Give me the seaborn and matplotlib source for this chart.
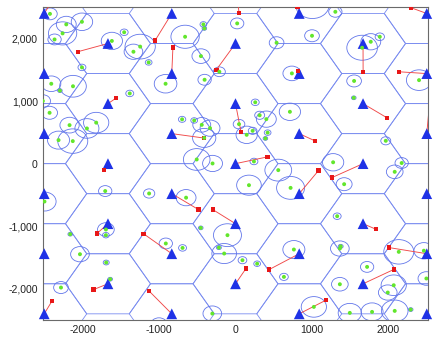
import numpy as np
import matplotlib
matplotlib.use("Agg")
import matplotlib.pyplot as plt
from matplotlib.patches import Circle, Polygon
from matplotlib.ticker import FuncFormatter
import seaborn as sns
import pandas as pd

# ---- base stations (triangles) ----
bs_x = [-2500]*6 + [-1667]*5 + [-833]*6 + [0]*5 + [833]*6 + [1667]*5 + [2500]*6
bs_y = ([2406, 1443, 481, -481, -1443, -2406] + [1925, 962, 0, -962, -1925]
        + [2406, 1443, 481, -481, -1443, -2406] + [1925, 962, 0, -962, -1925]
        + [2406, 1443, 481, -481, -1443, -2406] + [1925, 962, 0, -962, -1925]
        + [2406, 1443, 481, -481, -1443, -2406])

# ---- red squares and the base station each one links to ----
sq_x = [-2420, 46, 811, 2290, -2062, -1050, -818, -250, 813, 1668, 2138, -1563,
        72, -410, 1981, 1037, 2550, -1716, -485, -298, 1086, 1263, 420, -1811,
        -1200, 1834, 137, 441, 2003, 2068, -1855, -2399, -1131, 1181]
sq_y = [2560, 2418, 2514, 2500, 1793, 1975, 1862, 1505, 1488, 1472, 1472, 1048,
        510, 410, 734, 366, 1150, -104, -735, -735, -109, -222, 109, -1119,
        -1125, -1050, -1680, -1696, -1344, -1696, -2017, -2202, -2039, -2188]
link_bs_x = [-2500, 0, 833, 2500, -1667, -833, -833, 0, 833, 1667, 2500, -1667,
             0, -833, 1667, 833, 2500, -1667, -833, 0, 833, 1667, 0, -1667,
             -833, 1667, 0, 833, 2500, 1667, -1667, -2500, -833, 833]
link_bs_y = [2406, 2887, 2406, 2406, 1925, 2406, 1443, 1925, 1443, 1925, 1443, 962,
             962, 481, 962, 481, 481, 0, -481, -962, -481, 0, 0, -962,
             -1443, -962, -1925, -1443, -1443, -1925, -1925, -2406, -2406, -2406]

# ---- green users and their coverage radius ----
user_x = [-2425, -2212, -2007, -2260, -2365, -1616, -1455, -1246, -1334, -1135,
          -2007, -914, -2408, -2124, -2295, -1382, -2518, -2430, -2169, -1821,
          -1942, -2313, -2127,
          -420, -407, 22, -659, -452, -211, -404, 537, 737, 258, 711, -698, -540,
          -441, -333, -409, 46, 146, 224, 316, 403, 420, 391, -507, -300, 241,
          1305, 1005, 1000, 1655, 1768, 1886, 2399, 1550, 1546, 1964, 1276, 2172,
          -1703, -1129, -2497, -1694, -1694, -2160, -911, -2033, -1690, -1638,
          -2281, -1000,
          559, 176, 720, -646, -454, -105, -692, -217, -148, 91, 283, 763, 633, -303,
          1420, 2081, 1329, 1364, 1375, 2134, 2462, 1720, 1364, 2068, 1990, 2495,
          1024, 1494, 1785, 2081, 2290]
user_y = [2400, 2231, 2273, 2087, 1990, 1966, 2105, 1875, 1793, 1622,
          1542, 1280, 1280, 1240, 1170, 1125, 1004, 815, 617, 657,
          564, 377, 361,
          2231, 2167, 2247, 2033, 1723, 1472, 1344, 1937, 1446, 983, 831, 710, 692,
          622, 569, 412, 633, 462, 526, 775, 713, 497, 404, 67, 3, 35,
          2433, 2545, 2049, 1857, 1953, 2033, 1338, 1325, 1055, 366, 22, 10,
          -439, -478, -607, -1055, -1146, -1130, -1279, -1451, -1584, -1851,
          -1985, -2580,
          -104, -345, -388, -545, -1029, -1146, -1350, -1345, -1440, -1547, -1603,
          -1376, -1814, -2402,
          -329, -131, -842, -1360, -1325, -1413, -1395, -1654, -1932, -1948, -2065,
          -1840, -2295, -2391, -2375, -2359, -2338]
user_r = [95, 130, 140, 185, 87, 139, 52, 198, 122, 44,
          52, 148, 125, 174, 30, 52, 100, 104, 126, 165,
          157, 144, 196,
          44, 30, 87, 185, 117, 78, 87, 96, 117, 52, 139, 48, 44,
          117, 130, 152, 76, 139, 57, 65, 130, 44, 30, 174, 130, 52,
          87, 220, 96, 200, 130, 61, 165, 96, 30, 65, 139, 87,
          87, 74, 152, 109, 44, 30, 87, 122, 39, 30,
          96, 110,
          175, 161, 183, 130, 30, 183, 52, 32, 161, 57, 44, 144, 57, 122,
          104, 109, 52, 122, 32, 196, 130, 87, 109, 165, 122,
          109, 165, 152, 144, 174, 30]

x_ticks = [-2000, -1000, 0, 1000, 2000]
y_ticks = [-2000, -1000, 0, 1000, 2000]

HEX_R = 555.6
GRID_COLOR = "#7a8cf0"
CIRCLE_COLOR = "#6276ea"
TRI_COLOR = "#1f32e6"
SQ_COLOR = "#e81717"
LINK_COLOR = "#f04848"
USER_COLOR = "#62e62c"

sns.set_theme(style="white")
plt.rcParams["font.family"] = ["Liberation Sans", "DejaVu Sans"]

fig = plt.figure(figsize=(4.36, 3.41), dpi=100)
ax = fig.add_axes([42.7 / 436, 1 - 320 / 341, 385.6 / 436, 312.7 / 341])

# hexagonal cells around each base station
ang = np.deg2rad(np.arange(0, 360, 60))
for cx, cy in zip(bs_x, bs_y):
    verts = np.column_stack([cx + HEX_R * np.cos(ang), cy + HEX_R * np.sin(ang)])
    ax.add_patch(Polygon(verts, closed=True, fill=False, edgecolor=GRID_COLOR,
                         linewidth=0.6, zorder=1))

# coverage circles
for ux, uy, r in zip(user_x, user_y, user_r):
    ax.add_patch(Circle((ux, uy), r, fill=False, edgecolor=CIRCLE_COLOR,
                        linewidth=0.6, zorder=2))

# links
for x0, y0, x1, y1 in zip(sq_x, sq_y, link_bs_x, link_bs_y):
    ax.plot([x0, x1], [y0, y1], color=LINK_COLOR, linewidth=0.65, zorder=3)

bs_df = pd.DataFrame({"x": bs_x, "y": bs_y})
sq_df = pd.DataFrame({"x": sq_x, "y": sq_y})
user_df = pd.DataFrame({"x": user_x, "y": user_y})

sns.scatterplot(data=bs_df, x="x", y="y", ax=ax, marker="^", s=60,
                color=TRI_COLOR, edgecolor="none", linewidth=0, zorder=4,
                clip_on=False)
sns.scatterplot(data=sq_df, x="x", y="y", ax=ax, marker="s", s=10,
                color=SQ_COLOR, edgecolor="none", linewidth=0, zorder=5)
sns.scatterplot(data=user_df, x="x", y="y", ax=ax, marker="o", s=8,
                color=USER_COLOR, edgecolor="none", linewidth=0, zorder=6)

ax.set_xlim(-2520, 2520)
ax.set_ylim(-2505, 2505)
ax.set_xlabel("")
ax.set_ylabel("")
ax.set_xticks(x_ticks)
ax.set_yticks(y_ticks)
ax.xaxis.set_major_formatter(FuncFormatter(lambda v, p: f"{int(v)}"))
ax.yaxis.set_major_formatter(FuncFormatter(lambda v, p: f"{int(v):,}"))
ax.tick_params(direction="in", length=3, width=0.6, color="#606060",
               labelsize=7.6, labelcolor="#222222", pad=3.5)
for sp in ax.spines.values():
    sp.set_visible(True)
    sp.set_color("#6a6a6a")
    sp.set_linewidth(0.8)
ax.set_facecolor("white")
fig.patch.set_facecolor("white")

fig.savefig("out.png", dpi=100)
